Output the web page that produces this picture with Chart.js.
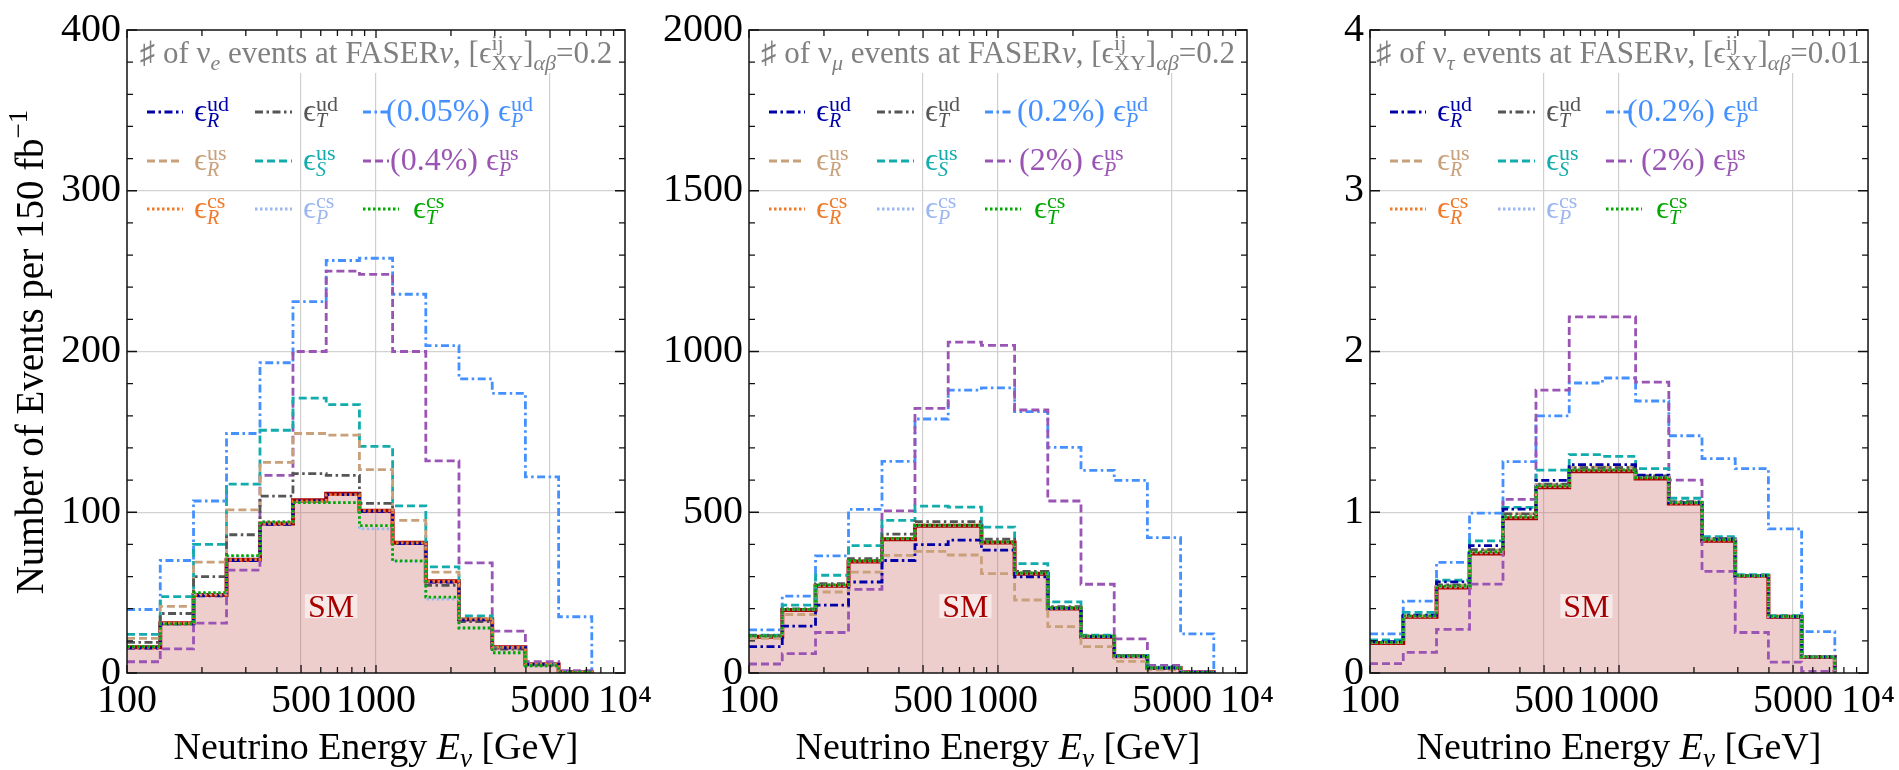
<!DOCTYPE html>
<html>
<head>
<meta charset="utf-8">
<script src="https://cdn.jsdelivr.net/npm/chart.js@4.4.0/dist/chart.umd.min.js"></script>
<style>
  body { margin: 0; background: #fff; width: 1899px; height: 770px; position: relative; overflow: hidden; }
  canvas { position: absolute; top: 0; }
</style>
</head>
<body>
<canvas id="c1" width="665" height="770" style="left:0px"></canvas>
<canvas id="c2" width="647" height="770" style="left:640px"></canvas>
<canvas id="c3" width="639" height="770" style="left:1260px"></canvas>
<script>
// bin edges of the energy histogram (GeV), 14 filled bins
const binEdges = [100, 136, 185, 251, 342, 464, 631, 858, 1166, 1585, 2154, 2929, 3981, 5412, 7356];
const xTickValues = [100, 500, 1000, 5000, 10000];
const xTickLabels = ['100', '500', '1000', '5000', '10⁴'];

// nu_e events
const nue_SM   = [16, 31, 48.5, 70.5, 93, 107.5, 111.5, 101, 81, 57, 33.5, 16, 5.5, 0.5];
const nue_eRud = [15.5, 30.5, 48, 70, 92.5, 107, 111, 100.5, 80.5, 56.5, 33, 15.7, 5.4, 0.5];
const nue_eTud = [19, 37, 60, 86, 110, 124, 123, 105.5, 80.7, 54.5, 32, 14.8, 5, 0.4];
const nue_ePud = [39.5, 70, 107, 149, 193, 231, 256.6, 258, 235.6, 203.7, 183, 174, 122, 35];
const nue_eRus = [21.5, 41.5, 69, 101.5, 131, 149, 148, 126.5, 95, 62.8, 34, 15, 5, 0.4];
const nue_eSus = [24, 47.5, 80, 117.5, 151, 171, 167, 141, 104, 66, 35.5, 15.8, 5.5, 0.5];
const nue_ePus = [7, 15, 31, 64, 123, 200, 250, 248, 200, 132, 68.5, 26, 7, 1.5];
const nue_eRcs = [16, 31, 48.5, 70.5, 93, 107, 111, 101, 81, 57, 33.5, 16, 5.5, 0.5];
const nue_ePcs = [16.5, 30.5, 49.5, 72.5, 94, 106, 106, 89.6, 69.4, 46, 28, 12.5, 4.3, 0.3];
const nue_eTcs = [16.5, 30.5, 50, 73, 94, 106, 106, 91.7, 69.8, 47.2, 28, 12.6, 4.5, 0.3];

// nu_mu events
const numu_SM   = [113, 196, 271, 347, 416, 458, 458, 406, 309, 201, 113, 52, 15.5, 2];
const numu_eRud = [82, 146, 211, 283, 350, 399, 413, 382, 299, 201, 113, 52, 15.5, 2];
const numu_eTud = [116, 199, 278, 356, 432, 471, 471, 416, 316, 206, 115, 53, 16, 2];
const numu_ePud = [134, 239, 364, 509, 658, 790, 880, 887, 813, 702, 630, 599, 421, 122];
const numu_eRus = [108, 182, 252, 314, 366, 378, 367, 309, 227, 144, 82, 36, 10, 1.5];
const numu_eSus = [118, 211, 304, 396, 475, 519, 516, 454, 340, 221, 118, 54, 18.5, 2];
const numu_ePus = [28, 60, 126, 260, 504, 823, 1029, 1019, 818, 535, 276, 106, 24, 5];
const numu_eRcs = [114, 197, 272, 348, 417, 459, 459, 407, 310, 202, 114, 52, 15.5, 2];
const numu_ePcs = [114, 197, 273, 349, 418, 459, 459, 407, 310, 202, 114, 52, 15.5, 2];
const numu_eTcs = [115, 198, 274, 350, 419, 460, 460, 408, 311, 203, 115, 53, 16, 2];

// nu_tau events
const nutau_SM   = [0.186, 0.35, 0.532, 0.744, 0.963, 1.156, 1.255, 1.255, 1.21, 1.054, 0.823, 0.603, 0.35, 0.099];
const nutau_eRud = [0.195, 0.36, 0.567, 0.792, 1.019, 1.198, 1.296, 1.296, 1.231, 1.06, 0.832, 0.606, 0.35, 0.1];
const nutau_eTud = [0.19, 0.357, 0.548, 0.767, 0.99, 1.175, 1.278, 1.278, 1.226, 1.066, 0.836, 0.604, 0.353, 0.1];
const nutau_ePud = [0.243, 0.447, 0.688, 0.994, 1.315, 1.6, 1.804, 1.835, 1.692, 1.476, 1.334, 1.272, 0.897, 0.258];
const nutau_eRus = [0.189, 0.355, 0.545, 0.765, 0.992, 1.173, 1.28, 1.28, 1.225, 1.065, 0.835, 0.603, 0.352, 0.1];
const nutau_eSus = [0.206, 0.377, 0.577, 0.822, 1.03, 1.262, 1.358, 1.348, 1.272, 1.087, 0.848, 0.612, 0.357, 0.103];
const nutau_ePus = [0.058, 0.128, 0.272, 0.553, 1.08, 1.76, 2.216, 2.216, 1.81, 1.2, 0.632, 0.252, 0.068, 0.01];
const nutau_eRcs = [0.188, 0.352, 0.535, 0.748, 0.968, 1.16, 1.26, 1.26, 1.214, 1.057, 0.826, 0.604, 0.351, 0.1];
const nutau_ePcs = [0.19, 0.354, 0.538, 0.751, 0.97, 1.162, 1.262, 1.262, 1.215, 1.058, 0.828, 0.605, 0.351, 0.1];
const nutau_eTcs = [0.19, 0.355, 0.54, 0.753, 0.972, 1.164, 1.264, 1.264, 1.216, 1.06, 0.83, 0.606, 0.352, 0.1];

const SERIF = '"Liberation Serif", "DejaVu Serif", serif';

// line styles, lower order = drawn on top
const lineStyles = {
  eRud: { color: '#0000a8', dash: [8, 3.5, 2.5, 3.5], order: 3, sub: 'R', sup: 'ud' },
  eTud: { color: '#555555', dash: [8, 3.5, 2.5, 3.5], order: 4, sub: 'T', sup: 'ud' },
  ePud: { color: '#4590ff', dash: [8, 3.5, 2.5, 3.5], order: 8, sub: 'P', sup: 'ud' },
  eRus: { color: '#c8a07a', dash: [8, 4], order: 5, sub: 'R', sup: 'us' },
  eSus: { color: '#12acac', dash: [8, 4], order: 6, sub: 'S', sup: 'us' },
  ePus: { color: '#9a55b4', dash: [8, 4], order: 7, sub: 'P', sup: 'us' },
  eRcs: { color: '#f07a2a', dash: [2.5, 2.5], order: 2, sub: 'R', sup: 'cs' },
  ePcs: { color: '#9cb6f0', dash: [2.5, 2.5], order: 1, sub: 'P', sup: 'cs' },
  eTcs: { color: '#00a800', dash: [2.5, 2.5], order: 0, sub: 'T', sup: 'cs' }
};
const legendRows = [['eRud', 'eTud', 'ePud'], ['eRus', 'eSus', 'ePus'], ['eRcs', 'ePcs', 'eTcs']];

const panels = {
  c1: { yMax: 400, yWidth: 127, padRight: 40, nu: 'e', coupling: '0.2', pct: ['(0.05%) ', '(0.4%) '],
        col3: [259, 263, 286], smAt: 660, yTitle: true,
        data: { SM: nue_SM, eRud: nue_eRud, eTud: nue_eTud, ePud: nue_ePud, eRus: nue_eRus, eSus: nue_eSus,
                ePus: nue_ePus, eRcs: nue_eRcs, ePcs: nue_ePcs, eTcs: nue_eTcs } },
  c2: { yMax: 2000, yWidth: 109, padRight: 40, nu: 'μ', coupling: '0.2', pct: ['(0.2%) ', '(2%) '],
        col3: [268, 270, 285], smAt: 740, yTitle: false,
        data: { SM: numu_SM, eRud: numu_eRud, eTud: numu_eTud, ePud: numu_ePud, eRus: numu_eRus, eSus: numu_eSus,
                ePus: numu_ePus, eRcs: numu_eRcs, ePcs: numu_ePcs, eTcs: numu_eTcs } },
  c3: { yMax: 4, yWidth: 110, padRight: 30, nu: 'τ', coupling: '0.01', pct: ['(0.2%) ', '(2%) '],
        col3: [257, 271, 286], smAt: 740, yTitle: false,
        data: { SM: nutau_SM, eRud: nutau_eRud, eTud: nutau_eTud, ePud: nutau_ePud, eRus: nutau_eRus, eSus: nutau_eSus,
                ePus: nutau_ePus, eRcs: nutau_eRcs, ePcs: nutau_ePcs, eTcs: nutau_eTcs } }
};

function stepPoints(vals) {
  const pts = vals.map((v, i) => ({ x: binEdges[i], y: v }));
  const last = binEdges[binEdges.length - 1];
  pts.push({ x: last, y: vals[vals.length - 1] });
  pts.push({ x: last, y: 0 });
  return pts;
}

// rich text: segments {t, sc, dy, it, hold}
function fontOf(s, base) {
  return (s.it ? 'italic ' : '') + Math.round(base * (s.sc || 1)) + 'px ' + SERIF;
}
function richWidth(ctx, segs, base) {
  let x = 0, held = 0;
  segs.forEach(s => {
    ctx.font = fontOf(s, base);
    const w = ctx.measureText(s.t).width;
    if (s.hold) held = w; else { x += Math.max(w, held); held = 0; }
  });
  return x;
}
function drawRich(ctx, segs, x, y, base, color, align) {
  let cx = align === 'center' ? x - richWidth(ctx, segs, base) / 2 : x;
  let held = 0;
  ctx.fillStyle = color;
  ctx.textBaseline = 'alphabetic';
  ctx.textAlign = 'left';
  segs.forEach(s => {
    ctx.font = fontOf(s, base);
    const w = ctx.measureText(s.t).width;
    ctx.fillText(s.t, cx, y + (s.dy || 0) * base);
    if (s.hold) held = w; else { cx += Math.max(w, held); held = 0; }
  });
}

function epsSegs(prefix, st) {
  const segs = [];
  if (prefix) segs.push({ t: prefix });
  segs.push({ t: 'ϵ' });
  segs.push({ t: st.sup, sc: 0.7, dy: -0.32, hold: true });
  segs.push({ t: st.sub, sc: 0.64, dy: 0.2, it: true });
  return segs;
}

const decor = {
  id: 'decor',
  beforeDatasetsDraw(chart) {
    const { ctx, chartArea: a } = chart;
    ctx.save();
    ctx.fillStyle = '#fff';
    ctx.fillRect(a.left + 1, a.top + 1, a.right - a.left - 2, 42);
    ctx.restore();
  },
  afterDatasetsDraw(chart) {
    const p = panels[chart.canvas.id];
    const { ctx, chartArea: a, scales: { x, y } } = chart;
    ctx.save();

    // SM label
    const sx = x.getPixelForValue(p.smAt), sy = y.getPixelForValue(p.yMax * 0.104);
    ctx.font = '32px ' + SERIF;
    const sw = ctx.measureText('SM').width;
    ctx.fillStyle = 'rgba(255,255,255,0.55)';
    ctx.fillRect(sx - sw / 2 - 3, sy - 12, sw + 6, 24);
    ctx.fillStyle = '#a80000';
    ctx.textAlign = 'center';
    ctx.textBaseline = 'alphabetic';
    ctx.fillText('SM', sx, sy + 11);

    // frame
    ctx.strokeStyle = '#111';
    ctx.lineWidth = 1.5;
    ctx.strokeRect(a.left, a.top, a.right - a.left, a.bottom - a.top);

    // inward ticks on all sides
    ctx.lineWidth = 1.3;
    ctx.beginPath();
    for (let d = 100; d < 10000; d *= 10) {
      for (let m = 1; m <= 9; m++) {
        const v = d * m;
        const px = x.getPixelForValue(v);
        const len = xTickValues.includes(v) ? 8 : 6;
        ctx.moveTo(px, a.bottom); ctx.lineTo(px, a.bottom - len);
        ctx.moveTo(px, a.top); ctx.lineTo(px, a.top + len);
      }
    }
    const minor = p.yMax / 20;
    for (let i = 0; i <= 20; i++) {
      const py = y.getPixelForValue(i * minor);
      const len = i % 5 === 0 ? 10 : 6;
      ctx.moveTo(a.left, py); ctx.lineTo(a.left + len, py);
      ctx.moveTo(a.right, py); ctx.lineTo(a.right - len, py);
    }
    ctx.stroke();

    // inset title
    const cx = (a.left + a.right) / 2;
    drawRich(ctx, [
      { t: '♯ of ' }, { t: 'ν' }, { t: p.nu, sc: 0.7, dy: 0.22, it: true },
      { t: ' events at FASER' }, { t: 'ν', it: true }, { t: ', [' }, { t: 'ϵ' },
      { t: 'ij', sc: 0.7, dy: -0.42, hold: true }, { t: 'XY', sc: 0.7, dy: 0.22 },
      { t: ']' }, { t: 'αβ', sc: 0.7, dy: 0.22, it: true }, { t: '=' + p.coupling }
    ], cx, a.top + 33, 31, '#808080', 'center');

    // legend
    const rowY = [82, 131, 179];
    const colLine = [[20, 56], [128, 165], [236, 262]];
    const colText = [67, 176];
    legendRows.forEach((row, r) => {
      row.forEach((key, c) => {
        const st = lineStyles[key];
        const ly = a.top + rowY[r];
        const tx = a.left + (c < 2 ? colText[c] : p.col3[r]);
        const x1 = a.left + colLine[c][1] + (c === 2 && r === 2 ? 10 : 0);
        ctx.strokeStyle = st.color;
        ctx.lineWidth = 2.8;
        ctx.setLineDash(st.dash);
        ctx.beginPath();
        ctx.moveTo(a.left + colLine[c][0], ly);
        ctx.lineTo(x1, ly);
        ctx.stroke();
        ctx.setLineDash([]);
        const prefix = c === 2 && r < 2 ? p.pct[r] : '';
        drawRich(ctx, epsSegs(prefix, st), tx, ly + 9, 32, st.color, 'left');
      });
    });
    ctx.restore();
  },
  afterDraw(chart) {
    const p = panels[chart.canvas.id];
    const { ctx, chartArea: a } = chart;
    ctx.save();
    drawRich(ctx, [
      { t: 'Neutrino Energy ' }, { t: 'E', it: true }, { t: 'ν', sc: 0.7, dy: 0.2, it: true }, { t: ' [GeV]' }
    ], (a.left + a.right) / 2, 759, 38, '#000', 'center');
    if (p.yTitle) {
      ctx.translate(43, 352);
      ctx.rotate(-Math.PI / 2);
      drawRich(ctx, [
        { t: 'Number of Events per 150 fb' }, { t: '−1', sc: 0.7, dy: -0.4 }
      ], 0, 0, 39, '#000', 'center');
    }
    ctx.restore();
  }
};

function makeChart(id) {
  const p = panels[id];
  const datasets = [{
    data: stepPoints(p.data.SM),
    stepped: 'before',
    borderColor: '#a80000',
    borderWidth: 4,
    backgroundColor: 'rgba(200,90,90,0.3)',
    fill: 'origin',
    pointRadius: 0,
    order: 20
  }];
  Object.keys(lineStyles).forEach(key => {
    const st = lineStyles[key];
    datasets.push({
      data: stepPoints(p.data[key]),
      stepped: 'before',
      borderColor: st.color,
      borderDash: st.dash,
      borderWidth: 2.8,
      fill: false,
      pointRadius: 0,
      order: st.order
    });
  });

  new Chart(document.getElementById(id), {
    type: 'line',
    data: { datasets },
    plugins: [decor],
    options: {
      responsive: false,
      animation: false,
      events: [],
      layout: { padding: { top: 26, right: p.padRight, left: 0, bottom: 0 } },
      plugins: { legend: { display: false }, tooltip: { enabled: false } },
      scales: {
        x: {
          type: 'logarithmic',
          min: 100,
          max: 10000,
          afterBuildTicks: s => { s.ticks = xTickValues.map(v => ({ value: v })); },
          afterFit: s => { s.height = 97; },
          border: { display: false },
          grid: {
            drawTicks: false,
            color: c => (c.tick && (c.tick.value === 100 || c.tick.value === 10000)) ? 'rgba(0,0,0,0)' : '#cfcfcf',
            lineWidth: 1.2
          },
          ticks: {
            autoSkip: false,
            maxRotation: 0,
            padding: 4,
            color: '#000',
            font: { family: SERIF, size: 40 },
            callback: (v, i) => xTickLabels[i]
          }
        },
        y: {
          min: 0,
          max: p.yMax,
          afterFit: s => { s.width = p.yWidth; },
          border: { display: false },
          grid: {
            drawTicks: false,
            color: c => (c.tick && (c.tick.value === 0 || c.tick.value === p.yMax)) ? 'rgba(0,0,0,0)' : '#d2d2d2',
            lineWidth: 1.2
          },
          ticks: {
            stepSize: p.yMax / 4,
            padding: 6,
            color: '#000',
            font: { family: SERIF, size: 40 },
            callback: v => String(v)
          }
        }
      }
    }
  });
}

['c1', 'c2', 'c3'].forEach(makeChart);
</script>
</body>
</html>
